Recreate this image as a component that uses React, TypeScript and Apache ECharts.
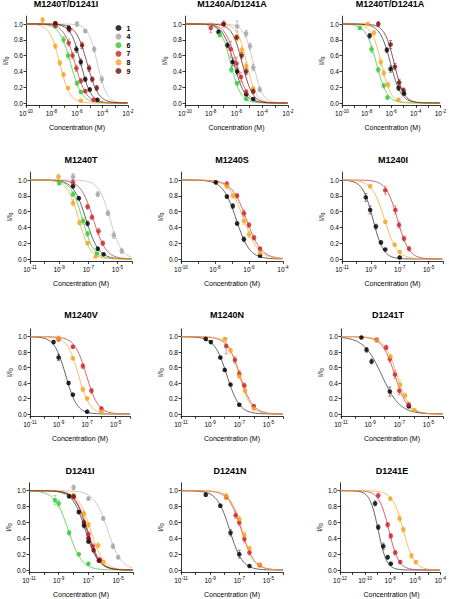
import React, { useEffect, useRef } from 'react';
import * as echarts from 'echarts';

const FONT = '"Liberation Sans", Arial, Helvetica, sans-serif';

// ---------- DATA ----------
const panelTitles = [
  'M1240T/D1241I', 'M1240A/D1241A', 'M1240T/D1241A',
  'M1240T', 'M1240S', 'M1240I',
  'M1240V', 'M1240N', 'D1241T',
  'D1241I', 'D1241N', 'D1241E',
];
const xAxisTitle = 'Concentration (M)';
// x axis ranges in log10(concentration, M)
const panelXRanges = [
  [-10, -2], [-10, -2], [-10, -2],
  [-11, -4], [-10, -4], [-11, -4],
  [-11, -4], [-11, -4], [-11, -4],
  [-11, -4], [-11, -4], [-12, -4],
];
const yTickValues = [0, 0.2, 0.4, 0.6, 0.8, 1.0];
const legendNames = ['1', '4', '6', '7', '8', '9'];

// points: [log10 conc, I/I0, error]; fits: [log10 IC50, Hill slope]
const p1Points = {
  '1': [[-7.7, 1.0, 0.02], [-6.65, 0.95, 0.03], [-6.05, 0.68, 0.04], [-5.7, 0.52, 0.04], [-5.35, 0.3, 0.03], [-5.0, 0.17, 0.02], [-4.4, 0.04, 0.01]],
  '4': [[-6.0, 1.0, 0.03], [-5.35, 0.91, 0.02], [-4.65, 0.68, 0.03], [-4.05, 0.3, 0.04]],
  '6': [[-7.7, 0.97, 0.02], [-7.05, 0.8, 0.04], [-6.7, 0.6, 0.04], [-6.0, 0.25, 0.03], [-5.7, 0.14, 0.02]],
  '7': [[-7.7, 0.98, 0.02], [-6.65, 0.76, 0.04], [-6.35, 0.6, 0.04], [-6.05, 0.44, 0.04], [-5.7, 0.28, 0.03], [-5.35, 0.15, 0.02], [-4.7, 0.04, 0.01]],
  '8': [[-8.7, 1.05, 0.03], [-7.7, 0.72, 0.03], [-7.35, 0.51, 0.03], [-7.05, 0.36, 0.03], [-6.7, 0.19, 0.02], [-5.7, 0.03, 0.01]],
  '9': [[-7.7, 1.01, 0.02], [-6.6, 0.93, 0.03], [-5.6, 0.73, 0.04], [-5.05, 0.44, 0.04], [-4.8, 0.3, 0.03], [-4.45, 0.19, 0.03]],
};
const p1Fits = { '1': [-5.7, 1.1], '4': [-4.4, 1.2], '6': [-6.5, 1.0], '7': [-6.15, 1.0], '8': [-7.35, 1.1], '9': [-5.2, 1.0] };

const p2Points = {
  '1': [[-7.4, 0.9, 0.02], [-6.7, 0.73, 0.03], [-6.3, 0.52, 0.05], [-5.95, 0.4, 0.04], [-5.25, 0.11, 0.02], [-4.7, 0.05, 0.01]],
  '4': [[-5.95, 0.97, 0.07], [-5.25, 0.88, 0.04], [-4.95, 0.72, 0.04], [-4.7, 0.45, 0.04], [-4.2, 0.17, 0.03]],
  '6': [[-7.3, 0.86, 0.02], [-6.4, 0.42, 0.03], [-5.95, 0.25, 0.02], [-5.25, 0.05, 0.01]],
  '7': [[-8.0, 0.95, 0.06], [-7.0, 1.0, 0.04], [-6.45, 0.68, 0.1], [-6.0, 0.5, 0.08], [-5.65, 0.33, 0.06], [-5.25, 0.14, 0.03]],
  '8': [[-5.95, 0.82, 0.03], [-5.6, 0.67, 0.04], [-5.25, 0.47, 0.04], [-4.7, 0.18, 0.03]],
  '9': [[-7.0, 1.0, 0.02], [-6.0, 0.83, 0.03], [-5.6, 0.6, 0.04], [-5.25, 0.4, 0.04], [-4.7, 0.15, 0.03]],
};
const p2Fits = { '1': [-6.2, 1.0], '4': [-4.7, 1.2], '6': [-6.45, 1.1], '7': [-6.0, 1.0], '8': [-5.2, 1.2], '9': [-5.55, 1.1] };

const p3Points = {
  '1': [[-7.75, 0.85, 0.03], [-6.35, 0.67, 0.03], [-6.05, 0.43, 0.04], [-5.4, 0.19, 0.03], [-4.95, 0.12, 0.02]],
  '6': [[-8.55, 0.95, 0.02], [-7.6, 0.68, 0.04], [-7.05, 0.42, 0.03], [-6.6, 0.22, 0.03], [-6.3, 0.07, 0.02]],
  '8': [[-7.9, 1.0, 0.02], [-7.4, 0.89, 0.03], [-6.85, 0.52, 0.05], [-6.6, 0.38, 0.04], [-6.25, 0.23, 0.03], [-5.4, 0.04, 0.01]],
  '9': [[-7.05, 1.0, 0.03], [-6.05, 0.74, 0.05], [-5.7, 0.46, 0.04], [-5.35, 0.26, 0.04], [-5.0, 0.16, 0.03]],
};
const p3Fits = { '1': [-6.05, 1.0], '6': [-7.2, 1.0], '8': [-6.8, 1.1], '9': [-5.75, 1.1] };

const p4Points = {
  '1': [[-8.05, 0.92, 0.02], [-7.65, 0.77, 0.02], [-7.05, 0.45, 0.03], [-6.35, 0.13, 0.02], [-5.95, 0.06, 0.01]],
  '4': [[-8.05, 1.04, 0.04], [-6.35, 0.82, 0.03], [-5.65, 0.58, 0.03], [-5.25, 0.3, 0.04], [-4.7, 0.1, 0.03]],
  '6': [[-9.0, 0.96, 0.02], [-8.05, 0.82, 0.03], [-7.35, 0.48, 0.04], [-7.05, 0.32, 0.03], [-6.4, 0.07, 0.01]],
  '7': [[-8.05, 0.97, 0.03], [-7.05, 0.66, 0.03], [-6.75, 0.53, 0.03], [-6.3, 0.35, 0.04], [-6.0, 0.2, 0.03]],
  '8': [[-9.05, 1.04, 0.03], [-8.05, 0.71, 0.04], [-7.6, 0.46, 0.03], [-7.05, 0.2, 0.02], [-6.5, 0.03, 0.01]],
};
const p4Fits = { '1': [-7.15, 1.0], '4': [-5.5, 1.1], '6': [-7.4, 1.1], '7': [-6.65, 1.0], '8': [-7.65, 1.1] };

const p5Points = {
  '1': [[-7.95, 0.97, 0.02], [-7.3, 0.79, 0.02], [-6.95, 0.67, 0.03], [-6.7, 0.45, 0.02], [-6.3, 0.25, 0.03], [-5.35, 0.04, 0.01]],
  '7': [[-7.3, 0.95, 0.03], [-6.7, 0.8, 0.03], [-6.3, 0.58, 0.04], [-6.0, 0.43, 0.03], [-5.7, 0.27, 0.03], [-5.35, 0.13, 0.02]],
  '8': [[-7.3, 0.92, 0.03], [-6.95, 0.8, 0.03], [-6.3, 0.48, 0.04], [-6.0, 0.31, 0.04], [-5.35, 0.08, 0.02]],
};
const p5Fits = { '1': [-6.75, 1.1], '7': [-6.15, 1.0], '8': [-6.3, 1.0] };

const p6Points = {
  '1': [[-9.35, 0.78, 0.05], [-9.05, 0.62, 0.05], [-8.65, 0.41, 0.03], [-8.3, 0.21, 0.02], [-8.0, 0.12, 0.01], [-7.0, 0.02, 0.01]],
  '7': [[-8.0, 0.87, 0.05], [-7.3, 0.62, 0.05], [-7.05, 0.43, 0.04], [-6.7, 0.26, 0.03], [-6.35, 0.13, 0.03]],
  '8': [[-9.05, 0.92, 0.02], [-8.0, 0.47, 0.02], [-7.35, 0.18, 0.02], [-7.0, 0.09, 0.01]],
};
const p6Fits = { '1': [-8.85, 1.2], '7': [-7.15, 1.1], '8': [-8.05, 1.0] };

const p7Points = {
  '1': [[-9.35, 0.93, 0.02], [-9.0, 0.73, 0.04], [-8.3, 0.4, 0.02], [-8.0, 0.25, 0.01], [-7.0, 0.03, 0.01]],
  '7': [[-9.0, 0.97, 0.03], [-8.0, 0.87, 0.02], [-7.3, 0.62, 0.03], [-6.7, 0.3, 0.03], [-6.0, 0.07, 0.02]],
  '8': [[-9.0, 0.98, 0.03], [-8.0, 0.72, 0.02], [-7.3, 0.32, 0.03], [-7.0, 0.2, 0.02], [-6.0, 0.03, 0.01]],
};
const p7Fits = { '1': [-8.5, 1.1], '7': [-7.05, 1.05], '8': [-7.6, 1.1] };

const p8Points = {
  '1': [[-9.3, 0.97, 0.02], [-8.95, 0.93, 0.02], [-8.3, 0.73, 0.01], [-8.0, 0.57, 0.01], [-7.6, 0.38, 0.01], [-7.0, 0.12, 0.01]],
  '7': [[-7.9, 0.88, 0.1], [-7.3, 0.7, 0.04], [-7.0, 0.52, 0.04], [-6.65, 0.37, 0.03], [-6.0, 0.1, 0.02]],
  '8': [[-8.0, 0.97, 0.02], [-7.6, 0.82, 0.03], [-7.0, 0.49, 0.03], [-6.6, 0.3, 0.03], [-6.0, 0.07, 0.01]],
};
const p8Fits = { '1': [-7.85, 1.0], '7': [-6.95, 1.0], '8': [-7.0, 1.1] };

const p9Points = {
  '1': [[-9.6, 0.99, 0.01], [-9.25, 0.83, 0.03], [-8.9, 0.68, 0.03], [-7.65, 0.29, 0.06], [-6.35, 0.1, 0.02]],
  '7': [[-8.55, 0.96, 0.02], [-7.9, 0.86, 0.03], [-7.65, 0.71, 0.04], [-7.3, 0.51, 0.05], [-7.0, 0.3, 0.05], [-6.35, 0.12, 0.03]],
  '8': [[-8.55, 0.95, 0.02], [-7.6, 0.74, 0.03], [-6.95, 0.38, 0.05], [-6.6, 0.24, 0.03], [-5.95, 0.05, 0.01]],
};
const p9Fits = { '1': [-8.2, 0.7], '7': [-7.3, 1.0], '8': [-7.15, 1.0] };

const p10Points = {
  '1': [[-8.3, 0.93, 0.02], [-7.65, 0.73, 0.02], [-7.3, 0.56, 0.03], [-7.0, 0.36, 0.02], [-6.3, 0.12, 0.02]],
  '4': [[-8.0, 1.04, 0.03], [-7.0, 0.9, 0.02], [-6.0, 0.65, 0.02], [-5.35, 0.3, 0.03], [-5.0, 0.16, 0.02]],
  '6': [[-9.25, 0.88, 0.06], [-9.0, 0.84, 0.04], [-8.3, 0.47, 0.03], [-7.65, 0.2, 0.01], [-7.0, 0.08, 0.01]],
  '7': [[-8.0, 0.92, 0.02], [-7.0, 0.45, 0.03], [-6.7, 0.3, 0.03], [-6.25, 0.13, 0.02]],
  '8': [[-8.0, 0.94, 0.03], [-7.3, 0.71, 0.04], [-7.0, 0.57, 0.03], [-6.35, 0.31, 0.03], [-6.0, 0.1, 0.02]],
  '9': [[-8.0, 0.93, 0.02], [-7.3, 0.6, 0.03], [-7.0, 0.4, 0.03], [-6.65, 0.25, 0.02], [-6.25, 0.12, 0.02]],
};
const p10Fits = { '1': [-7.2, 1.0], '4': [-5.7, 0.95], '6': [-8.35, 0.95], '7': [-7.05, 1.05], '8': [-6.85, 1.0], '9': [-7.1, 1.05] };

const p11Points = {
  '1': [[-9.3, 0.95, 0.02], [-8.3, 0.81, 0.02], [-7.6, 0.47, 0.04], [-7.0, 0.2, 0.05], [-6.3, 0.05, 0.01]],
  '7': [[-7.9, 0.92, 0.03], [-7.25, 0.69, 0.04], [-7.0, 0.6, 0.04], [-6.65, 0.39, 0.04], [-6.3, 0.22, 0.03], [-5.6, 0.06, 0.01]],
  '8': [[-7.9, 0.93, 0.04], [-7.0, 0.64, 0.04], [-6.65, 0.44, 0.04], [-6.3, 0.27, 0.03], [-5.6, 0.07, 0.01]],
};
const p11Fits = { '1': [-7.65, 1.0], '7': [-6.85, 1.0], '8': [-6.8, 1.05] };

const p12Points = {
  '1': [[-9.2, 0.84, 0.03], [-8.95, 0.54, 0.03], [-8.55, 0.3, 0.04], [-8.2, 0.16, 0.02], [-7.95, 0.08, 0.01]],
  '7': [[-8.95, 0.94, 0.03], [-8.2, 0.57, 0.03], [-7.95, 0.43, 0.03], [-7.6, 0.22, 0.03], [-7.2, 0.1, 0.02]],
  '8': [[-8.0, 0.9, 0.02], [-7.25, 0.65, 0.04], [-6.95, 0.51, 0.03], [-6.3, 0.18, 0.03], [-5.95, 0.1, 0.02]],
};
const p12Fits = { '1': [-8.95, 1.3], '7': [-8.1, 1.1], '8': [-6.95, 1.0] };

const panelPoints: any[] = [p1Points, p2Points, p3Points, p4Points, p5Points, p6Points, p7Points, p8Points, p9Points, p10Points, p11Points, p12Points];
const panelFits: any[] = [p1Fits, p2Fits, p3Fits, p4Fits, p5Fits, p6Fits, p7Fits, p8Fits, p9Fits, p10Fits, p11Fits, p12Fits];

// ---------- STYLE / LAYOUT ----------
const markerColors: Record<string, string> = {
  '1': '#000000', '4': '#a3a3a3', '6': '#2fcc2f', '7': '#c8212b', '8': '#f7a21b', '9': '#6e0e0e',
};
const curveColors: Record<string, string> = {
  '1': '#3a3a3a', '4': '#bdbdbd', '6': '#3fcf3f', '7': '#cc3a3a', '8': '#f5a93a', '9': '#7a2020',
};
const errColors: Record<string, string> = {
  '1': '#666666', '4': '#b0b0b0', '6': '#7fd87f', '7': '#e07a7a', '8': '#f7c070', '9': '#a05050',
};
const LEFTS = [26, 185, 342, 30, 181, 342, 30, 181, 341, 29, 181, 340];
const RIGHTS = [128, 288, 443, 132, 283, 443, 130, 283, 443, 133, 283, 443];
const TITLE_X = [66, 232, 390, 81, 232, 393, 81, 227, 388, 80, 230, 392];
const ROW_Y1 = [24, 180, 336.7, 490.7];
const ROW_Y0 = [103, 259, 414, 570];

function hillCurve(range: number[], fit: number[]) {
  const [c, n] = fit;
  const out: number[][] = [];
  const steps = 160;
  for (let k = 0; k <= steps; k++) {
    const x = range[0] + ((range[1] - range[0]) * k) / steps;
    out.push([x, 1 / (1 + Math.pow(10, n * (x - c)))]);
  }
  return out;
}

function textEl(x: number, y: number, text: string, fontSize: number, bold: boolean) {
  return {
    type: 'text', x, y, silent: true,
    style: {
      text, fill: '#000000', fontSize, fontWeight: bold ? 'bold' : 'normal', fontFamily: FONT,
      textAlign: 'center', align: 'center', textVerticalAlign: 'middle', verticalAlign: 'middle',
    },
  };
}

function buildOption() {
  const grid: any[] = [];
  const xAxis: any[] = [];
  const yAxis: any[] = [];
  const series: any[] = [];
  const graphic: any[] = [];

  panelTitles.forEach((title, i) => {
    const row = Math.floor(i / 3);
    const y1 = ROW_Y1[row];
    const y0 = ROW_Y0[row];
    const unit = y0 - y1;
    const [xmin, xmax] = panelXRanges[i];
    grid.push({ left: LEFTS[i], top: y1 - 0.1 * unit, width: RIGHTS[i] - LEFTS[i], height: 1.13 * unit });
    xAxis.push({
      type: 'value', gridIndex: i, min: xmin, max: xmax, interval: 1,
      splitLine: { show: false },
      axisLine: { show: true, onZero: false, lineStyle: { color: '#000', width: 0.8 } },
      axisTick: { show: true, length: 2.5, lineStyle: { color: '#000', width: 0.8 } },
      axisLabel: {
        margin: 4, color: '#000',
        formatter: (v: number) => (Math.round(v - xmin) % 2 === 0 ? `{b|10}{s|${Math.round(v)}}` : ''),
        rich: {
          b: { fontSize: 6.5, fontFamily: FONT, color: '#000', lineHeight: 8, verticalAlign: 'bottom' },
          s: { fontSize: 4.6, fontFamily: FONT, color: '#000', lineHeight: 5, verticalAlign: 'top', padding: [0, 0, 5, 0] },
        },
      },
    });
    yAxis.push({
      type: 'value', gridIndex: i, min: -0.03, max: 1.1,
      splitLine: { show: false },
      axisLine: { show: true, onZero: false, lineStyle: { color: '#000', width: 0.8 } },
      axisTick: { show: true, length: 2.5, customValues: yTickValues, lineStyle: { color: '#000', width: 0.8 } },
      axisLabel: {
        customValues: yTickValues, margin: 3, fontSize: 6.5, fontFamily: FONT, color: '#000',
        formatter: (v: number) => v.toFixed(1),
      },
      name: '{n|I/I}{u|0}', nameLocation: 'middle', nameGap: 15, nameRotate: 90,
      nameTextStyle: {
        color: '#000000',
        rich: {
          n: { fontSize: 7, fontFamily: FONT, color: '#000', lineHeight: 8, verticalAlign: 'top' },
          u: { fontSize: 4.8, fontFamily: FONT, color: '#000', lineHeight: 5, verticalAlign: 'bottom', padding: [4, 0, 0, 0] },
        },
      },
    });
    graphic.push(textEl(TITLE_X[i], y0 - 99, title, 9, true));
    graphic.push(textEl((LEFTS[i] + RIGHTS[i]) / 2, y0 + 24, xAxisTitle, 7, false));

    const pts = panelPoints[i];
    const fits = panelFits[i];
    const keys = legendNames.filter((k) => pts[k]);
    keys.forEach((k) => {
      series.push({
        type: 'line', name: `fit-${i}-${k}`, xAxisIndex: i, yAxisIndex: i,
        data: hillCurve(panelXRanges[i], fits[k]), symbol: 'none', showSymbol: false,
        lineStyle: { color: curveColors[k], width: 0.8 }, silent: true, z: 1,
      });
    });
    keys.forEach((k) => {
      const color = errColors[k];
      series.push({
        type: 'custom', name: `err-${i}-${k}`, xAxisIndex: i, yAxisIndex: i,
        data: pts[k], encode: { x: 0, y: 1 }, z: 2, silent: true, clip: false,
        renderItem: (params: any, api: any) => {
          const x = api.value(0);
          const y = api.value(1);
          const e = api.value(2);
          const top = api.coord([x, y + e]);
          const bot = api.coord([x, y - e]);
          const cap = 1.5;
          const st = { stroke: color, lineWidth: 0.8 };
          return {
            type: 'group',
            children: [
              { type: 'line', shape: { x1: top[0], y1: top[1], x2: bot[0], y2: bot[1] }, style: st },
              { type: 'line', shape: { x1: top[0] - cap, y1: top[1], x2: top[0] + cap, y2: top[1] }, style: st },
              { type: 'line', shape: { x1: bot[0] - cap, y1: bot[1], x2: bot[0] + cap, y2: bot[1] }, style: st },
            ],
          };
        },
      });
    });
    keys.forEach((k) => {
      series.push({
        type: 'scatter', name: k, xAxisIndex: i, yAxisIndex: i,
        data: pts[k].map((p: number[]) => [p[0], p[1]]),
        symbol: 'circle', symbolSize: 4.6, itemStyle: { color: markerColors[k] }, z: 3,
      });
    });
  });

  return {
    animation: false,
    backgroundColor: '#ffffff',
    textStyle: { fontFamily: FONT, color: '#000000' },
    grid, xAxis, yAxis, series, graphic,
    legend: {
      data: legendNames, orient: 'vertical', left: 110.5, top: 19.5,
      itemWidth: 6, itemHeight: 6, itemGap: 1.6, icon: 'circle', selectedMode: false,
      textStyle: { fontSize: 7, fontWeight: 'bold', fontFamily: FONT, color: '#000', lineHeight: 6 },
    },
  };
}

export default function App() {
  const ref = useRef<HTMLDivElement>(null);
  useEffect(() => {
    document.body.style.margin = '0';
    if (!ref.current) return;
    const chart = echarts.init(ref.current, undefined, { renderer: 'svg' });
    chart.setOption(buildOption() as any);
    return () => chart.dispose();
  }, []);
  return <div ref={ref} style={{ width: 449, height: 599 }} />;
}
